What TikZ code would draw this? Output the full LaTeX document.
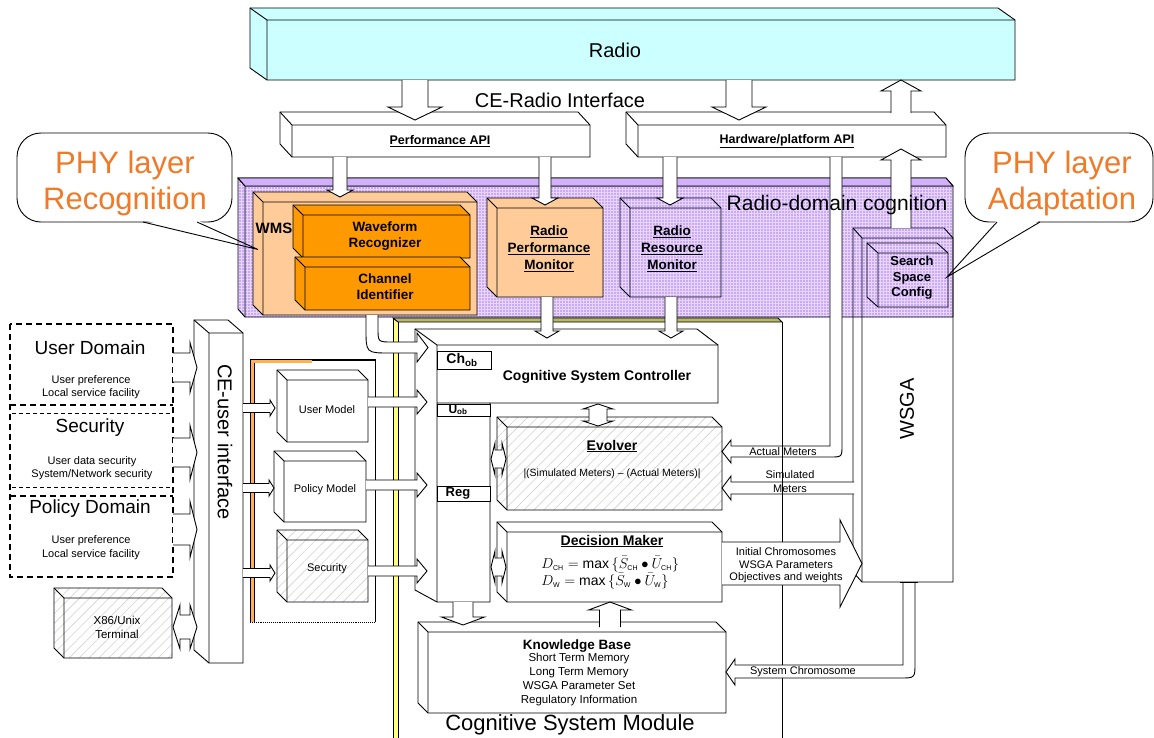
\documentclass[tikz,border=0pt]{standalone}
\usepackage{fontspec}
\setmainfont{Liberation Sans}
\usetikzlibrary{patterns.meta}
\definecolor{cyanbox}{HTML}{CCFFFF}
\definecolor{peach}{HTML}{FFCC99}
\definecolor{orng}{HTML}{FF9900}
\definecolor{calltxt}{HTML}{F07A28}
\definecolor{purtop}{HTML}{D2B0FA}
\definecolor{purbase}{HTML}{E9D5FF}
\definecolor{purdot}{HTML}{A97FEE}
\definecolor{yel}{HTML}{FFFF80}
\definecolor{olivetop}{HTML}{B8B86A}
\definecolor{hatchc}{HTML}{D2D2CC}
\definecolor{framor}{HTML}{FFB050}
% 3D box: front x1,y1,x2,y2, depth dx,dy, style
\newcommand{\boxthree}[7]{%
  \path[draw,#7] (#1-#5,#2-#6) -- (#3-#5,#2-#6) -- (#3,#2) -- (#3,#4) -- (#1,#4) -- (#1-#5,#4-#6) -- cycle;
  \draw (#1-#5,#2-#6) -- (#1,#2) -- (#3,#2) (#1,#2) -- (#1,#4);}
% block arrows
\newcommand{\arrD}[6]{\path[draw,fill=white] (#1-#4,#2) -- (#1-#4,#3-#6) -- (#1-#5,#3-#6) -- (#1,#3) -- (#1+#5,#3-#6) -- (#1+#4,#3-#6) -- (#1+#4,#2);}
\newcommand{\arrU}[6]{\path[draw,fill=white] (#1-#4,#2) -- (#1-#4,#3+#6) -- (#1-#5,#3+#6) -- (#1,#3) -- (#1+#5,#3+#6) -- (#1+#4,#3+#6) -- (#1+#4,#2);}
\newcommand{\arrR}[6]{\path[draw,fill=white] (#2,#1-#4) -- (#3-#6,#1-#4) -- (#3-#6,#1-#5) -- (#3,#1) -- (#3-#6,#1+#5) -- (#3-#6,#1+#4) -- (#2,#1+#4);}
\newcommand{\darrH}[6]{\path[draw,fill=white] (#2,#1) -- (#2+#6,#1-#5) -- (#2+#6,#1-#4) -- (#3-#6,#1-#4) -- (#3-#6,#1-#5) -- (#3,#1) -- (#3-#6,#1+#5) -- (#3-#6,#1+#4) -- (#2+#6,#1+#4) -- (#2+#6,#1+#5) -- cycle;}
\newcommand{\darrV}[6]{\path[draw,fill=white] (#1,#2) -- (#1+#5,#2+#6) -- (#1+#4,#2+#6) -- (#1+#4,#3-#6) -- (#1+#5,#3-#6) -- (#1,#3) -- (#1-#5,#3-#6) -- (#1-#4,#3-#6) -- (#1-#4,#2+#6) -- (#1-#5,#2+#6) -- cycle;}
\begin{document}
\begin{tikzpicture}[x=1pt,y=-1pt,line width=0.9pt,
  t/.style={inner sep=0pt,align=center},
  fs/.style 2 args={font=\fontsize{#1}{#2}\selectfont},
  fsb/.style 2 args={font=\fontsize{#1}{#2}\selectfont\bfseries},
  hatch/.style={preaction={fill=white},pattern={Lines[angle=45,distance=7pt,line width=0.6pt]},pattern color=hatchc},
  purp/.style={preaction={fill=purbase},pattern={Dots[distance=3pt,radius=0.8pt]},pattern color=purdot},
  thickdash/.style={line width=1.7pt,dash pattern=on 6pt off 4pt},
  thindash/.style={line width=0.9pt,dash pattern=on 4pt off 3pt}]
\useasboundingbox (0,0) rectangle (1154,737);
\fill[white] (0,0) rectangle (1154,737);

% callout bodies
\path[draw,fill=white,rounded corners=24pt] (17,133) rectangle (232,222);
\fill[white] (143,220) -- (197,220) -- (258,249.5) -- cycle;
\path[draw,fill=white,rounded corners=24pt] (965,133) rectangle (1153,222);
\fill[white] (997,220) -- (1040,220) -- (947,277) -- cycle;

% Radio and APIs
\boxthree{267}{20}{1015}{80}{17}{12}{fill=cyanbox}
\boxthree{292}{125}{590}{157}{12}{13}{fill=white}
\boxthree{638}{125}{946}{157}{12}{13}{fill=white}
\arrD{415}{80}{120}{13}{27}{13}
\arrD{739}{80}{120}{13}{27}{13}
\arrU{901}{113}{80}{10}{20}{11}

% Radio-domain cognition region
\boxthree{245}{186}{953}{317}{7}{8}{purp}
\path[draw,fill=purtop] (238,178) -- (946,178) -- (953,186) -- (245,186) -- cycle;
\boxthree{263}{202}{477}{315}{10}{10}{fill=peach}
\boxthree{303}{215}{470}{258}{10}{10}{fill=orng}
\boxthree{305}{267}{470}{310}{10}{10}{fill=orng}
\boxthree{497}{208}{603}{297}{10}{10}{fill=peach}
\boxthree{630}{208}{721}{297}{10}{10}{}
\boxthree{862}{238}{953}{582}{9}{10}{}
\boxthree{878}{253}{948}{307}{11}{10}{}
\arrD{340}{157}{197}{7}{13}{7}
\arrD{545}{157}{205}{6}{13}{7}
\arrD{670}{157}{205}{7}{13}{7}
\arrU{901}{228}{149}{10}{20}{11}

% Cognitive System Module frame
\path[fill=yel] (393,318) -- (398,322) -- (398,740) -- (393,740) -- cycle;
\path[draw,fill=olivetop] (393,318) -- (778,318) -- (782,322) -- (398,322) -- cycle;
\draw (393,318) -- (393,740) (398,322) -- (398,740);

% model group frame
\fill[framor] (250,359) rectangle (254,622);
\fill[framor] (250,359) rectangle (312,362.5);
\draw (250,359) -- (375,359) -- (375,622);
\draw[line width=2pt] (312,360) -- (375,360);
\draw (250,359) -- (250,622) (254,362.5) -- (254,622);
\draw[densely dotted] (250,622) -- (375,622);

% Cognitive System Controller
\path[draw,fill=white] (415,329) -- (697,329) -- (718,345) -- (718,403) -- (490,403) -- (490,602) -- (437,602) -- (415,590) -- cycle;
\draw (415,329) -- (437,345) -- (718,345) (437,345) -- (437,602) (437,403) -- (490,403);
\draw[fill=white] (437,351) rectangle (491,369);
\draw[fill=white] (437,404) rectangle (490,416);
\draw[fill=white] (437,486) rectangle (490,501);

% Evolver, Decision Maker, Knowledge Base
\boxthree{507}{427}{722}{510}{10}{10}{hatch}
\boxthree{507}{532}{722}{602}{10}{10}{fill=white}
\boxthree{428}{632}{726}{713}{10}{10}{fill=white}

% models, CE-user interface, terminal, domains
\boxthree{287}{380}{368}{442}{10}{10}{fill=white}
\boxthree{284}{461}{366}{522}{10}{10}{fill=white}
\boxthree{287}{540}{368}{602}{10}{10}{hatch}
\boxthree{209}{333}{243}{663}{15}{13}{fill=white}
\boxthree{64}{598}{172}{658}{10}{10}{hatch}
\draw[thickdash] (10,324) rectangle (173,577);
\draw[thickdash] (10,405) -- (173,405) (10,496) -- (173,496);
\draw[thindash] (12,413) -- (170,413) (12,487) -- (170,487);

% arrows
\arrD{547}{297}{338}{6}{12}{7}
\arrD{671}{297}{338}{6}{12}{7}
\path[draw,fill=white] (366,315) -- (366,329) .. controls (366,353) .. (390,353) -- (417,353) -- (417,362) -- (428,347.5) -- (417,333) -- (417,342) -- (392,342) .. controls (378,342) .. (378,328) -- (378,315);
\arrR{402}{368}{427}{5}{12}{10}
\arrR{485}{366}{427}{5}{12}{10}
\arrR{571}{368}{427}{5}{12}{10}
\arrR{408}{243}{275}{4.5}{8}{5}
\arrR{488}{243}{274}{4.5}{8}{5}
\arrR{573}{243}{275}{4.5}{8}{5}
\arrR{367.5}{173}{197}{14.5}{25}{7}
\arrR{452.5}{173}{197}{14.5}{27}{7}
\arrR{529.5}{173}{197}{15.5}{28}{7}
\darrH{627}{173}{197}{12}{22}{7}
\darrV{598}{404}{426}{9}{15}{5}
\darrH{459}{491}{506}{9}{16}{4}
\darrH{567}{491}{506}{9}{16}{4}
\arrD{463}{602}{625}{10}{21.5}{8}
\arrU{610}{627}{602}{10.5}{21.5}{8}

% meters pipes
\path[draw,fill=white] (830,157) -- (830,446) -- (731,446) -- (731,440) -- (722,451.5) -- (731,463) -- (731,457) -- (830,457) .. controls (842,457) .. (842,445) -- (842,157);
\path[draw,fill=white] (854,482) -- (731,482) -- (731,476) -- (722,488) -- (731,500) -- (731,494) -- (854,494);
\draw (782,322) -- (782,740);
\arrR{563.5}{722}{862}{21.5}{43.5}{22}
\path[draw,fill=white] (903,582) -- (903,665) -- (735,665) -- (735,659) -- (726,672) -- (735,685) -- (735,678) -- (900,678) .. controls (915,678) .. (915,663) -- (915,582);
\draw (900,582) -- (918,582);

% texts
\node[t,fs={20}{24}] (radiotxt) at (615,50) {Radio};
\node[t,fs={20}{24}] (ceradio) at (560,100) {CE-Radio Interface};
\node[t,fsb={12.5}{15}] (perfapi) at (440,141) {\underline{Performance API}};
\node[t,fsb={12.5}{15}] (hwapi) at (787,141) {\underline{Hardware/platform API}};
\node[t,fs={21}{25}] (rdc) at (837,205) {Radio-domain cognition};
\node[t,fsb={15}{18}] (wmstxt) at (274,228) {WMS};
\node[t,fsb={13.5}{16}] (wrtxt) at (385,236) {Waveform\\Recognizer};
\node[t,fsb={13.5}{16}] (citxt) at (385,287) {Channel\\Identifier};
\node[t,fsb={13.5}{17}] (rpmtxt) at (549,249) {\underline{Radio}\\\underline{Performance}\\\underline{Monitor}};
\node[t,fsb={13.5}{17}] (rrmtxt) at (672,249) {\underline{Radio}\\\underline{Resource}\\\underline{Monitor}};
\node[t,fsb={13}{15.5}] (ssctxt) at (912,278) {Search\\Space\\Config};
\node[t,fs={31}{36},text=calltxt] (phyrec) at (125,183) {PHY layer\\Recognition};
\node[t,fs={31}{36},text=calltxt] (phyada) at (1062,183) {PHY layer\\Adaptation};
\node[t,fs={20}{24},rotate=90] (wsgatxt) at (907,409) {WSGA};
\node[t,fs={20}{24},rotate=-90] (ceuser) at (225,442) {CE-user interface};
\node[t,fs={19}{22}] (udom) at (90,348) {User Domain};
\node[t,fs={11}{13.5}] (udomt) at (91,387) {User preference\\Local service facility};
\node[t,fs={19}{22}] (secd) at (90,428) {Security};
\node[t,fs={11}{12.5}] (secdt) at (92,468) {User data security\\System/Network security};
\node[t,fs={19}{22}] (pdom) at (90,509) {Policy Domain};
\node[t,fs={11}{14}] (pdomt) at (91,548) {User preference\\Local service facility};
\node[t,fs={11.5}{14}] (termtxt) at (117,627) {X86/Unix\\Terminal};
\node[t,fs={11}{13}] (umtxt) at (327,410) {User Model};
\node[t,fs={11}{13}] (pmtxt) at (325,490) {Policy Model};
\node[t,fs={11}{13}] (smtxt) at (327,569) {Security};
\node[t,fsb={14}{16}] (chob) at (462,360) {Ch\textsubscript{ob}};
\node[t,fsb={12}{14}] (uob) at (458,410) {U\textsubscript{ob}};
\node[t,fsb={13}{15}] (regtxt) at (458,493) {Reg};
\node[t,fsb={14}{16}] (csctxt) at (597,377) {Cognitive System Controller};
\node[t,fsb={14}{16}] (evotxt) at (612,446) {\underline{Evolver}};
\node[t,fs={10.5}{12}] (evof) at (612,474) {|(Simulated Meters) – (Actual Meters)|};
\node[t,fsb={14}{16}] (dmtxt) at (612,541) {\underline{Decision Maker}};
\node[t,fs={14}{17},align=left,anchor=north west] (dmf) at (541,556) {$D_{\scriptscriptstyle\mathrm{CH}} = \mathrm{max}\,\{\bar{S}_{\scriptscriptstyle\mathrm{CH}} \bullet \bar{U}_{\scriptscriptstyle\mathrm{CH}}\}$\\$D_{\scriptscriptstyle\mathrm{W}} = \mathrm{max}\,\{\bar{S}_{\scriptscriptstyle\mathrm{W}} \bullet \bar{U}_{\scriptscriptstyle\mathrm{W}}\}$};
\node[t,fsb={13.5}{15}] (kbtxt) at (577,646) {Knowledge Base};
\node[t,fs={11.5}{14}] (kbt) at (579,680) {Short Term Memory\\Long Term Memory\\WSGA Parameter Set\\Regulatory Information};
\node[t,fs={22}{26}] (csmtxt) at (570,725) {Cognitive System Module};
\node[t,fs={11}{13}] (amtxt) at (783,452) {Actual Meters};
\node[t,fs={11}{14}] (simtxt) at (790,482) {Simulated\\Meters};
\node[t,fs={11}{12.5}] (ictxt) at (786,565.5) {Initial Chromosomes\\WSGA Parameters\\Objectives and weights};
\node[t,fs={11}{13}] (sctxt) at (803,672) {System Chromosome};

% callout tails
\draw (143,222) -- (258,249.5) -- (197,222);
\draw (997,222) -- (947,277) -- (1040,222);
\end{tikzpicture}
\end{document}
